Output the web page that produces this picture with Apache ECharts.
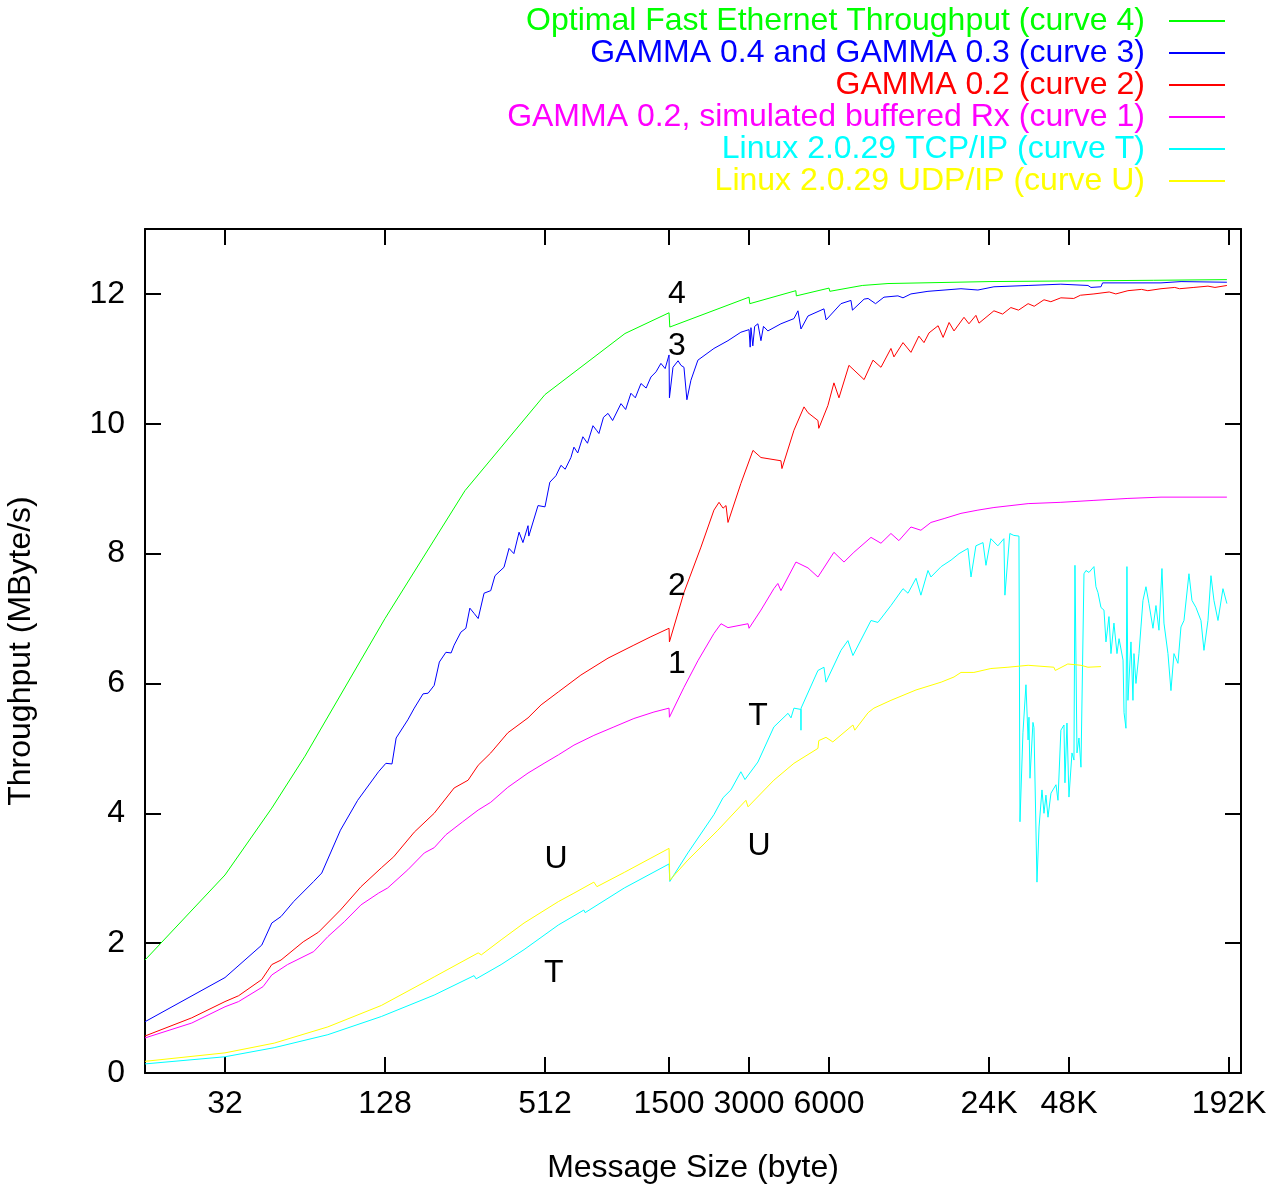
<!DOCTYPE html>
<html>
<head>
<meta charset="utf-8">
<title>Throughput vs message size</title>
<script src="https://cdn.jsdelivr.net/npm/echarts@6/dist/echarts.min.js"></script>
<style>
  html, body { margin: 0; padding: 0; background: #fff; }
  #chart { width: 1280px; height: 1192px; }
</style>
</head>
<body>
<div id="chart"></div>
<script>
// x axis ticks (message size, byte)
const xTickValues = [32, 128, 512, 1500, 3000, 6000, 24000, 48000, 192000];
const xTickLabels = ['32', '128', '512', '1500', '3000', '6000', '24K', '48K', '192K'];
const yTickValues = [0, 2, 4, 6, 8, 10, 12];

// each point: [message size (byte), throughput (MByte/s)]
const curve4 = [[16,1.74],[32,3.05],[48,4.08],[64,4.88],[128,7.0],[256,8.97],[512,10.45],[1024,11.39],[1500,11.71],[1510,11.49],[3000,11.95],[3020,11.85],[4500,12.05],[4520,11.97],[6000,12.09],[6040,12.04],[8000,12.13],[10000,12.16],[24000,12.19],[100000,12.21],[188500,12.22]];

const curve3 = [[16,0.79],[32,1.47],[44,1.97],[48,2.31],[52,2.41],[58,2.64],[69,2.95],[74,3.08],[87,3.74],[101,4.2],[121,4.64],[129,4.77],[136,4.76],[141,5.16],[156,5.44],[165,5.62],[178,5.84],[186,5.85],[196,5.97],[205,6.33],[217,6.48],[227,6.47],[233,6.59],[247,6.79],[258,6.85],[267,7.16],[277,7.08],[287,7.0],[302,7.39],[320,7.43],[332,7.66],[359,7.79],[375,8.08],[391,8.0],[409,8.33],[423,8.17],[442,8.43],[445,8.27],[482,8.74],[512,8.72],[534,9.1],[563,9.2],[588,9.36],[610,9.3],[641,9.48],[658,9.64],[680,9.55],[711,9.8],[740,9.7],[776,9.97],[800,9.9],[817,9.85],[850,10.1],[884,10.16],[920,10.05],[989,10.31],[1030,10.22],[1078,10.47],[1120,10.4],[1176,10.62],[1230,10.55],[1282,10.72],[1340,10.8],[1398,10.93],[1450,10.85],[1500,11.06],[1505,10.4],[1552,10.87],[1622,10.97],[1663,10.9],[1707,10.87],[1751,10.37],[1813,10.67],[1926,10.98],[2213,11.16],[2500,11.28],[2795,11.41],[3000,11.45],[3030,11.18],[3050,11.48],[3100,11.2],[3150,11.5],[3240,11.54],[3326,11.28],[3400,11.5],[3532,11.43],[3955,11.54],[4427,11.62],[4583,11.74],[4705,11.46],[5000,11.66],[5742,11.77],[5850,11.6],[6653,11.85],[7255,11.9],[7350,11.75],[8130,11.92],[8418,11.93],[8980,11.85],[9657,11.95],[10900,11.97],[11390,11.94],[12200,12.0],[14140,12.04],[18820,12.08],[21800,12.06],[25040,12.11],[33670,12.13],[44730,12.15],[56560,12.13],[58050,12.1],[63310,12.11],[64200,12.17],[106500,12.17],[126700,12.19],[188500,12.18]];

const curve2 = [[16,0.57],[24,0.85],[32,1.1],[36,1.19],[44,1.44],[48,1.67],[52,1.74],[63,2.02],[72,2.17],[87,2.51],[104,2.87],[124,3.16],[138,3.33],[165,3.71],[196,4.0],[233,4.39],[263,4.51],[287,4.74],[320,4.93],[371,5.24],[442,5.47],[495,5.67],[575,5.87],[699,6.13],[884,6.39],[1106,6.59],[1282,6.72],[1500,6.85],[1505,6.64],[1707,7.4],[1978,8.1],[2213,8.67],[2313,8.79],[2395,8.7],[2458,8.74],[2500,8.48],[2795,9.08],[3104,9.59],[3326,9.48],[3955,9.43],[3990,9.31],[4427,9.9],[4830,10.26],[5000,10.17],[5450,10.05],[5490,9.93],[5940,10.28],[6260,10.63],[6540,10.4],[7130,10.9],[8130,10.68],[8780,10.98],[9410,10.87],[10260,11.16],[10530,11.03],[11390,11.25],[12200,11.1],[13070,11.35],[13660,11.25],[14270,11.4],[15440,11.51],[16120,11.33],[16980,11.56],[17720,11.43],[19320,11.64],[20170,11.54],[21420,11.67],[22000,11.55],[25040,11.74],[27000,11.69],[29000,11.79],[31000,11.75],[33670,11.85],[35500,11.81],[38640,11.91],[41000,11.88],[44730,11.94],[50000,11.93],[53000,11.98],[59570,12.0],[68000,12.03],[72000,12.0],[79970,12.05],[90000,12.07],[95000,12.05],[106500,12.08],[120000,12.1],[125000,12.08],[141600,12.1],[160000,12.12],[170000,12.1],[188500,12.13]];

const curve1 = [[16,0.54],[24,0.77],[32,1.02],[36,1.1],[44.5,1.33],[48,1.51],[55,1.67],[69,1.87],[78,2.1],[90,2.33],[104,2.59],[121,2.77],[131,2.85],[156,3.13],[180,3.39],[196,3.47],[217,3.67],[251,3.87],[287,4.05],[320,4.17],[371,4.4],[442,4.62],[508,4.77],[575,4.9],[658,5.05],[782,5.2],[930,5.33],[1106,5.46],[1316,5.56],[1500,5.62],[1505,5.48],[1707,5.94],[1926,6.35],[2213,6.77],[2353,6.92],[2500,6.86],[2974,6.92],[3000,6.85],[3326,7.13],[3720,7.46],[3850,7.54],[3955,7.43],[4505,7.87],[5000,7.78],[5450,7.64],[6260,8.02],[6830,7.87],[7440,8.02],[8630,8.25],[9410,8.16],[10260,8.31],[10990,8.2],[12200,8.41],[13300,8.36],[14510,8.48],[16260,8.54],[18820,8.62],[21800,8.67],[25040,8.71],[33670,8.77],[44730,8.79],[59570,8.82],[79970,8.85],[106500,8.87],[188500,8.87]];

const curveT = [[16,0.14],[32,0.25],[49,0.39],[78,0.59],[124,0.87],[196,1.2],[277,1.5],[282,1.45],[350,1.67],[427,1.9],[575,2.28],[717,2.51],[725,2.47],[1018,2.85],[1500,3.22],[1510,2.95],[1766,3.39],[2213,3.98],[2395,4.24],[2564,4.36],[2795,4.64],[2896,4.52],[3240,4.79],[3720,5.33],[4205,5.54],[4316,5.47],[4427,5.62],[4700,5.6],[4705,5.28],[4710,5.62],[5450,6.2],[5742,6.25],[5843,6.02],[6653,6.51],[7065,6.66],[7380,6.43],[8630,6.97],[8780,7.0],[9165,6.94],[10260,7.2],[11390,7.46],[11890,7.39],[12750,7.62],[13300,7.36],[14140,7.74],[14510,7.64],[15850,7.8],[17270,7.9],[18510,8.0],[19990,8.08],[20530,7.64],[21420,8.12],[22780,8.17],[23370,7.82],[24380,8.23],[25910,8.12],[27300,8.23],[27540,7.36],[28740,8.31],[29750,8.28],[31100,8.27],[31380,3.87],[32200,5.24],[33050,5.98],[33670,5.13],[33920,5.48],[34220,4.54],[35120,5.4],[35430,5.32],[36360,2.94],[37020,3.79],[37970,4.36],[38640,4.0],[39300,4.28],[40000,3.94],[41050,4.31],[42870,4.44],[43620,4.2],[44730,5.28],[45940,5.36],[46340,4.47],[47150,5.39],[47970,4.25],[49240,4.93],[50100,4.82],[50530,7.82],[51420,4.93],[52320,5.16],[53230,4.71],[54640,7.69],[55600,7.74],[57050,7.71],[59570,7.8],[60610,7.49],[61680,7.4],[63310,7.17],[64980,7.13],[66100,6.64],[67850,7.03],[69030,6.46],[70840,6.93],[72720,6.46],[74040,6.69],[76650,6.36],[77310,5.55],[78610,5.31],[79290,7.8],[79970,5.74],[82100,6.64],[83530,5.74],[84250,6.46],[85730,6.0],[87990,6.46],[89520,6.87],[91090,7.28],[93490,7.49],[95940,7.23],[99330,6.85],[101950,7.2],[104630,6.82],[107390,7.77],[109270,6.93],[113120,6.46],[116100,5.89],[119160,6.46],[123350,6.31],[126600,6.87],[129960,6.97],[135700,7.69],[139270,7.28],[144180,7.17],[150560,6.97],[154520,6.51],[159980,6.97],[164200,7.66],[168500,7.28],[174470,6.97],[182180,7.46],[188500,7.23]];

const curveU = [[16,0.18],[32,0.31],[49,0.46],[78,0.71],[124,1.04],[196,1.48],[287,1.85],[295,1.82],[350,2.05],[427,2.31],[575,2.64],[658,2.77],[782,2.94],[803,2.87],[1018,3.09],[1500,3.46],[1510,2.97],[1766,3.28],[2290,3.74],[2920,4.2],[2974,4.1],[3720,4.51],[4427,4.77],[5450,5.0],[5490,5.12],[5843,5.17],[6200,5.1],[7380,5.36],[7500,5.28],[8418,5.55],[8852,5.62],[10260,5.74],[12750,5.9],[15850,6.02],[17720,6.1],[18820,6.17],[21050,6.17],[24380,6.23],[28280,6.25],[33670,6.28],[42100,6.25],[42600,6.2],[47500,6.3],[53200,6.28],[56560,6.25],[63310,6.26]];

const seriesNames = [
  'Optimal Fast Ethernet Throughput (curve 4)',
  'GAMMA 0.4 and GAMMA 0.3 (curve 3)',
  'GAMMA 0.2 (curve 2)',
  'GAMMA 0.2, simulated buffered Rx (curve 1)',
  'Linux 2.0.29 TCP/IP (curve T)',
  'Linux 2.0.29 UDP/IP (curve U)'
];
const seriesColors = ['#00ff00', '#0000ff', '#ff0000', '#ff00ff', '#00ffff', '#ffff00'];
const curves = [curve4, curve3, curve2, curve1, curveT, curveU];

// curve labels placed in the plot: [byte, MByte/s, text]
const annotations = [[1607,12.0,'4'],[1607,11.2,'3'],[1607,7.5,'2'],[1607,6.3,'1'],[3240,5.5,'T'],[3270,3.5,'U'],[563,3.3,'U'],[553,1.53,'T']];

const font = 'Liberation Sans, Arial, sans-serif';
const fontSize = 32;
const black = '#000';

const chart = echarts.init(document.getElementById('chart'));

function xLabel(v) {
  let best = 0;
  xTickValues.forEach((t, i) => {
    if (Math.abs(Math.log(t / v)) < Math.abs(Math.log(xTickValues[best] / v))) best = i;
  });
  return xTickLabels[best];
}

const axisLine = { show: true, onZero: false, lineStyle: { color: black, width: 2 } };
const tickStyle = { inside: true, length: 16, lineStyle: { color: black, width: 2 } };

const xBase = { type: 'log', logBase: 2, min: 16, max: 213000, axisLine, splitLine: { show: false } };
const yBase = { type: 'value', min: 0, max: 13, axisLine, splitLine: { show: false } };

const series = curves.map((data, i) => ({
  name: seriesNames[i],
  type: 'line',
  data,
  showSymbol: false,
  symbol: 'none',
  lineStyle: { color: seriesColors[i], width: 1 },
  itemStyle: { color: seriesColors[i] },
  animation: false
}));

// 곡선 번호 글자 (scatter 기본 opacity 0.8 이라 1로 고정)
series.push({
  type: 'scatter',
  silent: true,
  symbolSize: 1,
  itemStyle: { color: 'rgba(255,255,255,0)', opacity: 1 },
  label: { show: true, position: 'inside', color: black, textBorderWidth: 0, fontSize, fontFamily: font },
  data: annotations.map(a => ({ value: [a[0], a[1]], label: { formatter: a[2] } })),
  animation: false,
  z: 20
});

chart.setOption({
  backgroundColor: '#fff',
  animation: false,
  grid: { left: 145, right: 39, top: 229, bottom: 119, outerBoundsMode: 'none', containLabel: false },
  legend: {
    orient: 'vertical',
    right: 55,
    top: 5,
    padding: 0,
    align: 'right',
    icon: 'rect',
    itemWidth: 56,
    itemHeight: 2,
    itemGap: 0,
    selectedMode: false,
    textStyle: { fontSize, fontFamily: font, padding: [0, 19, 0, 0] },
    data: seriesNames.map((name, i) => ({ name, textStyle: { color: seriesColors[i] } }))
  },
  xAxis: [
    Object.assign({}, xBase, {
      position: 'bottom',
      name: 'Message Size (byte)',
      nameLocation: 'middle',
      nameGap: 79,
      nameTextStyle: { fontSize, fontFamily: font, color: black },
      axisTick: Object.assign({ customValues: xTickValues }, tickStyle),
      axisLabel: { customValues: xTickValues, formatter: xLabel, fontSize, fontFamily: font, color: black, margin: 15 }
    }),
    Object.assign({}, xBase, {
      position: 'top',
      axisTick: Object.assign({ customValues: xTickValues }, tickStyle),
      axisLabel: { show: false }
    })
  ],
  yAxis: [
    Object.assign({}, yBase, {
      position: 'left',
      name: 'Throughput (MByte/s)',
      nameLocation: 'middle',
      nameGap: 108,
      nameTextStyle: { fontSize, fontFamily: font, color: black },
      axisTick: Object.assign({ customValues: yTickValues }, tickStyle),
      axisLabel: { customValues: yTickValues, fontSize, fontFamily: font, color: black, margin: 20 }
    }),
    Object.assign({}, yBase, {
      position: 'right',
      axisTick: Object.assign({ customValues: yTickValues }, tickStyle),
      axisLabel: { show: false }
    })
  ],
  series
});
</script>
</body>
</html>
